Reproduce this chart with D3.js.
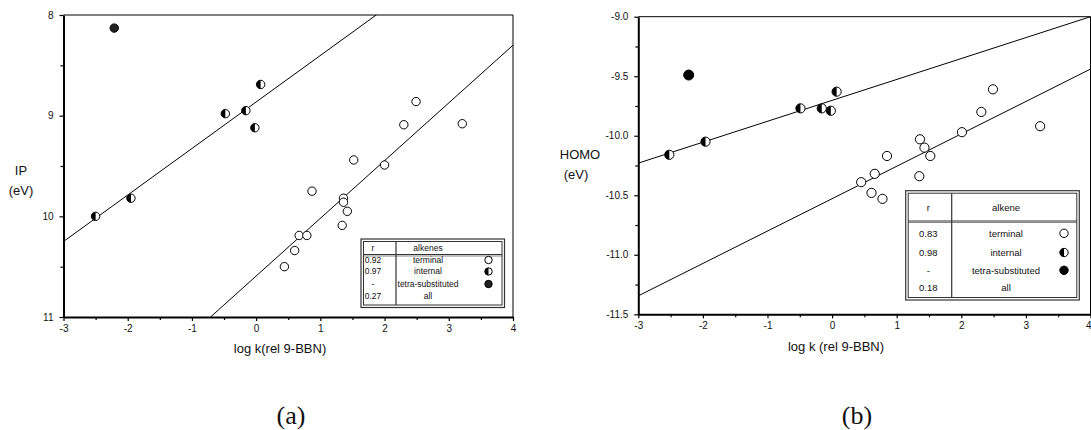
<!DOCTYPE html>
<meta charset="utf-8" />
<html>
<head>
<script src="https://d3js.org/d3.v7.min.js"></script>
<style>
  body { margin: 0; background: #fff; }
  text { font-family: "Liberation Sans", Arial, sans-serif; fill: #111; }
  .cap { font-family: "Liberation Serif", "Times New Roman", serif; }
</style>
</head>
<body>
<script type="text/javascript">
// ---- data ----
// panel (a): log k vs IP (eV)
var ipTerminal = [[2.49,8.86],[2.30,9.09],[3.21,9.08],[1.52,9.44],[2.00,9.49],[0.87,9.75],
                  [1.36,9.82],[1.36,9.86],[1.42,9.95],[1.34,10.09],[0.67,10.19],[0.79,10.19],
                  [0.60,10.34],[0.44,10.50]];
var ipInternal = [[-2.50,10.00],[-1.95,9.82],[-0.48,8.98],[-0.16,8.95],[-0.02,9.12],[0.07,8.69]];
var ipTetra = [[-2.21,8.13]];
var ipFitInternal = [[-3,10.25],[1.87,8.0]];
var ipFitTerminal = [[-0.71,11.0],[4,8.30]];
var ipLegend = [["r","alkenes",null],["0.92","terminal","open"],["0.97","internal","half"],
                ["-","tetra-substituted","full"],["0.27","all",null]];

// panel (b): log k vs HOMO (eV)
var homoTerminal = [[2.49,-9.61],[2.31,-9.80],[3.22,-9.92],[2.01,-9.97],[1.36,-10.03],[1.43,-10.10],
                    [1.52,-10.17],[0.85,-10.17],[0.66,-10.32],[0.45,-10.39],[1.35,-10.34],
                    [0.61,-10.48],[0.78,-10.53]];
var homoInternal = [[-2.52,-10.16],[-1.96,-10.05],[-0.49,-9.77],[-0.16,-9.77],[-0.02,-9.79],[0.07,-9.63]];
var homoTetra = [[-2.22,-9.49]];
var homoFitInternal = [[-3,-10.23],[4,-9.0]];
var homoFitTerminal = [[-3,-11.345],[4,-9.44]];
var homoLegend = [["r","alkene",null],["0.83","terminal","open"],["0.98","internal","half"],
                  ["-","tetra-substituted","full"],["0.18","all",null]];

var xTicks = [-3,-2,-1,0,1,2,3,4];
var xMinor = [-2.5,-1.5,-0.5,0.5,1.5,2.5,3.5];
var ipTicks = [8,9,10,11];
var ipMinor = [8.5,9.5,10.5];
var homoTicks = [-9,-9.5,-10,-10.5,-11,-11.5];
var homoMinor = [-9.25,-9.75,-10.25,-10.75,-11.25];

var svg = d3.select('body').append('svg')
    .attr('width', 1091)
    .attr('height', 430);

// plain hyphen for negatives, like the original
function hy(f) { return function(d) { return f(d).replace('\u2212', '-'); }; }

function drawSymbol(g, cx, cy, r, kind, dark) {
  if (kind == 'full') {
    g.append('circle').attr('cx', cx).attr('cy', cy).attr('r', r)
      .attr('fill', dark).attr('stroke', '#000').attr('stroke-width', 1);
  } else {
    g.append('circle').attr('cx', cx).attr('cy', cy).attr('r', r)
      .attr('fill', '#fff').attr('stroke', '#000').attr('stroke-width', 1);
    if (kind == 'half') {
      g.append('path')
        .attr('d', 'M' + cx + ',' + (cy - r) + 'A' + r + ',' + r + ' 0 0 0 ' + cx + ',' + (cy + r) + 'Z')
        .attr('fill', '#000');
    }
  }
}

function panel(opt) {
  var x = d3.scaleLinear().domain([-3, 4]).range([opt.left, opt.right]);
  var y = d3.scaleLinear().domain(opt.ydom).range([opt.top, opt.bottom]);
  var g = svg.append('g');

  // frame top/right
  g.append('path')
    .attr('d', 'M' + opt.left + ',' + opt.top + 'H' + opt.right + 'V' + opt.bottom)
    .attr('fill', 'none').attr('stroke', '#000').attr('stroke-width', 1);

  // axes
  var xa = g.append('g').attr('transform', 'translate(0,' + opt.bottom + ')')
    .call(d3.axisBottom(x).tickValues(xTicks).tickSize(4).tickSizeOuter(0).tickPadding(4)
      .tickFormat(hy(d3.format('d'))));
  g.append('g').attr('transform', 'translate(0,' + opt.bottom + ')')
    .call(d3.axisBottom(x).tickValues(xMinor).tickSize(3).tickFormat(''))
    .select('.domain').remove();
  var ya = g.append('g').attr('transform', 'translate(' + opt.left + ',0)')
    .call(d3.axisLeft(y).tickValues(opt.yTicks).tickSize(4).tickSizeOuter(0).tickPadding(6)
      .tickFormat(hy(opt.yfmt)));
  g.append('g').attr('transform', 'translate(' + opt.left + ',0)')
    .call(d3.axisLeft(y).tickValues(opt.yMinor).tickSize(3).tickFormat(''))
    .select('.domain').remove();
  g.selectAll('.domain').attr('stroke-width', 2);
  g.selectAll('.tick line').attr('stroke-width', 1.2);
  g.selectAll('.tick text').style('font-size', '10px')
    .style('font-family', '"Liberation Sans", Arial, sans-serif').attr('fill', '#222');
  if (opt.right > 1085) {
    // last label sits on the window edge
    xa.selectAll('.tick text').filter(function(d) { return d == 4; })
      .attr('text-anchor', 'end').attr('x', 0.5);
  }

  // fit lines
  var line = d3.line().x(function(d) { return x(d[0]); }).y(function(d) { return y(d[1]); });
  [opt.fitA, opt.fitB].forEach(function(f) {
    g.append('path').attr('d', line(f)).attr('stroke', '#000').attr('stroke-width', 1).attr('fill', 'none');
  });

  // points
  opt.terminal.forEach(function(d) { drawSymbol(g, x(d[0]), y(d[1]), opt.r, 'open'); });
  opt.internal.forEach(function(d) { drawSymbol(g, x(d[0]), y(d[1]), opt.r, 'half'); });
  opt.tetra.forEach(function(d) { drawSymbol(g, x(d[0]), y(d[1]), opt.rt, 'full', opt.dark); });

  // axis titles
  g.append('text').attr('x', opt.ylabX).attr('y', opt.ylabY).attr('text-anchor', 'middle')
    .style('font-size', '13px').text(opt.ylab);
  g.append('text').attr('x', opt.ylabX2).attr('y', opt.ylabY + 20).attr('text-anchor', 'middle')
    .style('font-size', '13px').text('(eV)');
  g.append('text').attr('x', opt.xlabX).attr('y', opt.xlabY).attr('text-anchor', 'middle')
    .style('font-size', '13px').text(opt.xlab);
  g.append('text').attr('class', 'cap').attr('x', opt.capX).attr('y', 424).attr('text-anchor', 'middle')
    .style('font-size', '26px').text(opt.cap);

  // legend table
  var L = opt.leg;
  var lg = g.append('g');
  lg.append('rect').attr('x', L.x0).attr('y', L.y0).attr('width', L.x1 - L.x0).attr('height', L.y1 - L.y0)
    .attr('fill', '#fff').attr('stroke', '#333').attr('stroke-width', 1.2);
  lg.append('rect').attr('x', L.x0 + 2.5).attr('y', L.y0 + 2.5).attr('width', L.x1 - L.x0 - 5).attr('height', L.y1 - L.y0 - 5)
    .attr('fill', 'none').attr('stroke', '#333').attr('stroke-width', 1);
  lg.append('line').attr('x1', L.div).attr('x2', L.div).attr('y1', L.y0 + 2.5).attr('y2', L.y1 - 2.5)
    .attr('stroke', '#333').attr('stroke-width', 1.2);
  lg.append('line').attr('x1', L.x0 + 2.5).attr('x2', L.x1 - 2.5).attr('y1', L.hdr).attr('y2', L.hdr)
    .attr('stroke', '#333').attr('stroke-width', 1);
  lg.append('line').attr('x1', L.x0 + 2.5).attr('x2', L.x1 - 2.5).attr('y1', L.hdr + 1.5).attr('y2', L.hdr + 1.5)
    .attr('stroke', '#333').attr('stroke-width', 0.6);
  opt.legend.forEach(function(row, i) {
    var cy = L.rows[i];
    lg.append('text').attr('x', L.rX).attr('y', cy).attr('dy', '0.35em').attr('text-anchor', 'middle')
      .style('font-size', L.fs + 'px').text(row[0]);
    lg.append('text').attr('x', L.nX).attr('y', cy).attr('dy', '0.35em').attr('text-anchor', 'middle')
      .style('font-size', L.fs + 'px').text(row[1]);
    if (row[2]) drawSymbol(lg, L.sX, cy, L.sr, row[2], opt.dark);
  });
}

panel({
  left: 63.5, right: 513, top: 15, bottom: 317, ydom: [8, 11],
  yTicks: ipTicks, yMinor: ipMinor, yfmt: d3.format('d'),
  terminal: ipTerminal, internal: ipInternal, tetra: ipTetra,
  fitA: ipFitInternal, fitB: ipFitTerminal, r: 4.2, rt: 4.2, dark: '#222',
  ylab: 'IP', ylabX: 21, ylabX2: 21, ylabY: 175,
  xlab: 'log k(rel 9-BBN)', xlabX: 280, xlabY: 353, cap: '(a)', capX: 291,
  legend: ipLegend,
  leg: { x0: 361, x1: 504.5, y0: 239, y1: 307.5, div: 396, hdr: 254.5,
         rows: [248.5, 260, 271.5, 284, 296], rX: 373, nX: 428, sX: 488.5, sr: 3.7, fs: 8.5 }
});

panel({
  left: 638.3, right: 1090.5, top: 16.7, bottom: 314.3, ydom: [-9, -11.5],
  yTicks: homoTicks, yMinor: homoMinor, yfmt: d3.format('.1f'),
  terminal: homoTerminal, internal: homoInternal, tetra: homoTetra,
  fitA: homoFitInternal, fitB: homoFitTerminal, r: 4.6, rt: 5, dark: '#000',
  ylab: 'HOMO', ylabX: 580, ylabX2: 576, ylabY: 159,
  xlab: 'log k (rel 9-BBN)', xlabX: 836, xlabY: 351, cap: '(b)', capX: 857,
  legend: homoLegend,
  leg: { x0: 905.7, x1: 1079.3, y0: 190.7, y1: 300, div: 951.7, hdr: 221,
         rows: [208, 233.3, 252.5, 270.3, 287.3], rX: 928.3, nX: 1006, sX: 1064, sr: 4.2, fs: 9.5 }
});
</script>
</body>
</html>
